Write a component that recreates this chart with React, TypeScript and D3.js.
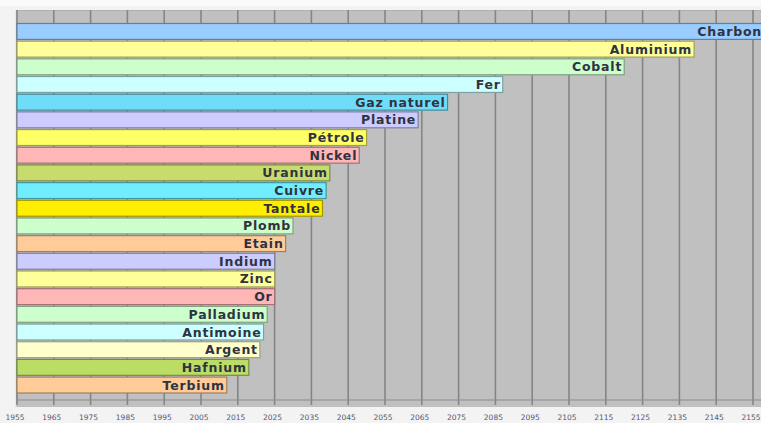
import React from "react";
import * as d3 from "d3";

const resources = [
  "Charbon", "Aluminium", "Cobalt", "Fer", "Gaz naturel", "Platine", "Pétrole",
  "Nickel", "Uranium", "Cuivre", "Tantale", "Plomb", "Etain", "Indium", "Zinc",
  "Or", "Palladium", "Antimoine", "Argent", "Hafnium", "Terbium",
];
const depletionYear = [
  2158, 2139, 2120, 2087, 2072, 2064, 2050, 2048, 2040, 2039, 2038, 2030, 2028,
  2025, 2025, 2025, 2023, 2022, 2021, 2018, 2012,
];
const barColors = [
  "#99ccff", "#ffff99", "#ccffcc", "#ccffff", "#70ddf8", "#ccccff", "#ffff66",
  "#ffb6b6", "#c8dc6e", "#70eeff", "#ffee00", "#ccffcc", "#ffcc99", "#ccccff",
  "#ffff99", "#ffb6b6", "#ccffcc", "#ccffff", "#ffffcc", "#bbdd66", "#ffcc99",
];
const tickYears = d3.range(1955, 2156, 10);
const startYear = 1955;

const W = 761;
const H = 423;

export default function App() {
  const x = d3.scaleLinear().domain([1955, 2155]).range([17, 753]);
  const y = d3.scaleBand<string>().domain(resources).range([23.5, 393]).paddingInner(0.1).paddingOuter(0);
  const plotTop = 10;
  const plotBottom = 407;

  return (
    <svg width={W} height={H} style={{ position: "absolute", left: 0, top: 0, display: "block" }}>
      <rect x={0} y={0} width={W} height={H} fill="#f3f3f3" />
      <rect x={0} y={0} width={W} height={6} fill="#fafafa" />
      <rect x={16} y={plotTop} width={W - 16} height={plotBottom - plotTop} fill="#c0c0c0" />
      <line x1={16} x2={16} y1={plotTop} y2={plotBottom} stroke="#dcdcdc" strokeWidth={1} />
      <line x1={16} x2={W} y1={plotTop + 0.5} y2={plotTop + 0.5} stroke="#b0b0b0" strokeWidth={1} />
      {tickYears.map((t) => (
        <line key={"g" + t} x1={x(t)} x2={x(t)} y1={plotTop} y2={plotBottom - 2}
          stroke="#858585" strokeWidth={1.6} />
      ))}
      <line x1={17} x2={W} y1={400} y2={400} stroke="#8a8a8a" strokeWidth={1.2} />
      <line x1={17} x2={17} y1={395} y2={404} stroke="#8a8a8a" strokeWidth={1.2} />
      {resources.map((r, i) => {
        const y0 = y(r)!;
        const bw = y.bandwidth();
        const x1 = x(depletionYear[i]);
        const c = barColors[i];
        const stroke = d3.color(c)!.darker(1.3).formatHex();
        return (
          <g key={r}>
            <rect x={x(startYear)} y={y0} width={x1 - x(startYear)} height={bw}
              fill={c} stroke={stroke} strokeWidth={1.2} />
            <text x={x1 - 2} y={y0 + bw / 2 + 4.5} textAnchor="end"
              fontFamily="DejaVu Sans" fontWeight="bold" fontSize={12.5} letterSpacing={0.8}
              fill="#2f3340">
              {r}
            </text>
          </g>
        );
      })}
      {tickYears.map((t) => (
        <text key={"t" + t} x={x(t) - 2} y={420} textAnchor="middle"
          fontFamily="DejaVu Sans" fontSize={7.5} fill="#4f5a78">
          {t}
        </text>
      ))}
    </svg>
  );
}
